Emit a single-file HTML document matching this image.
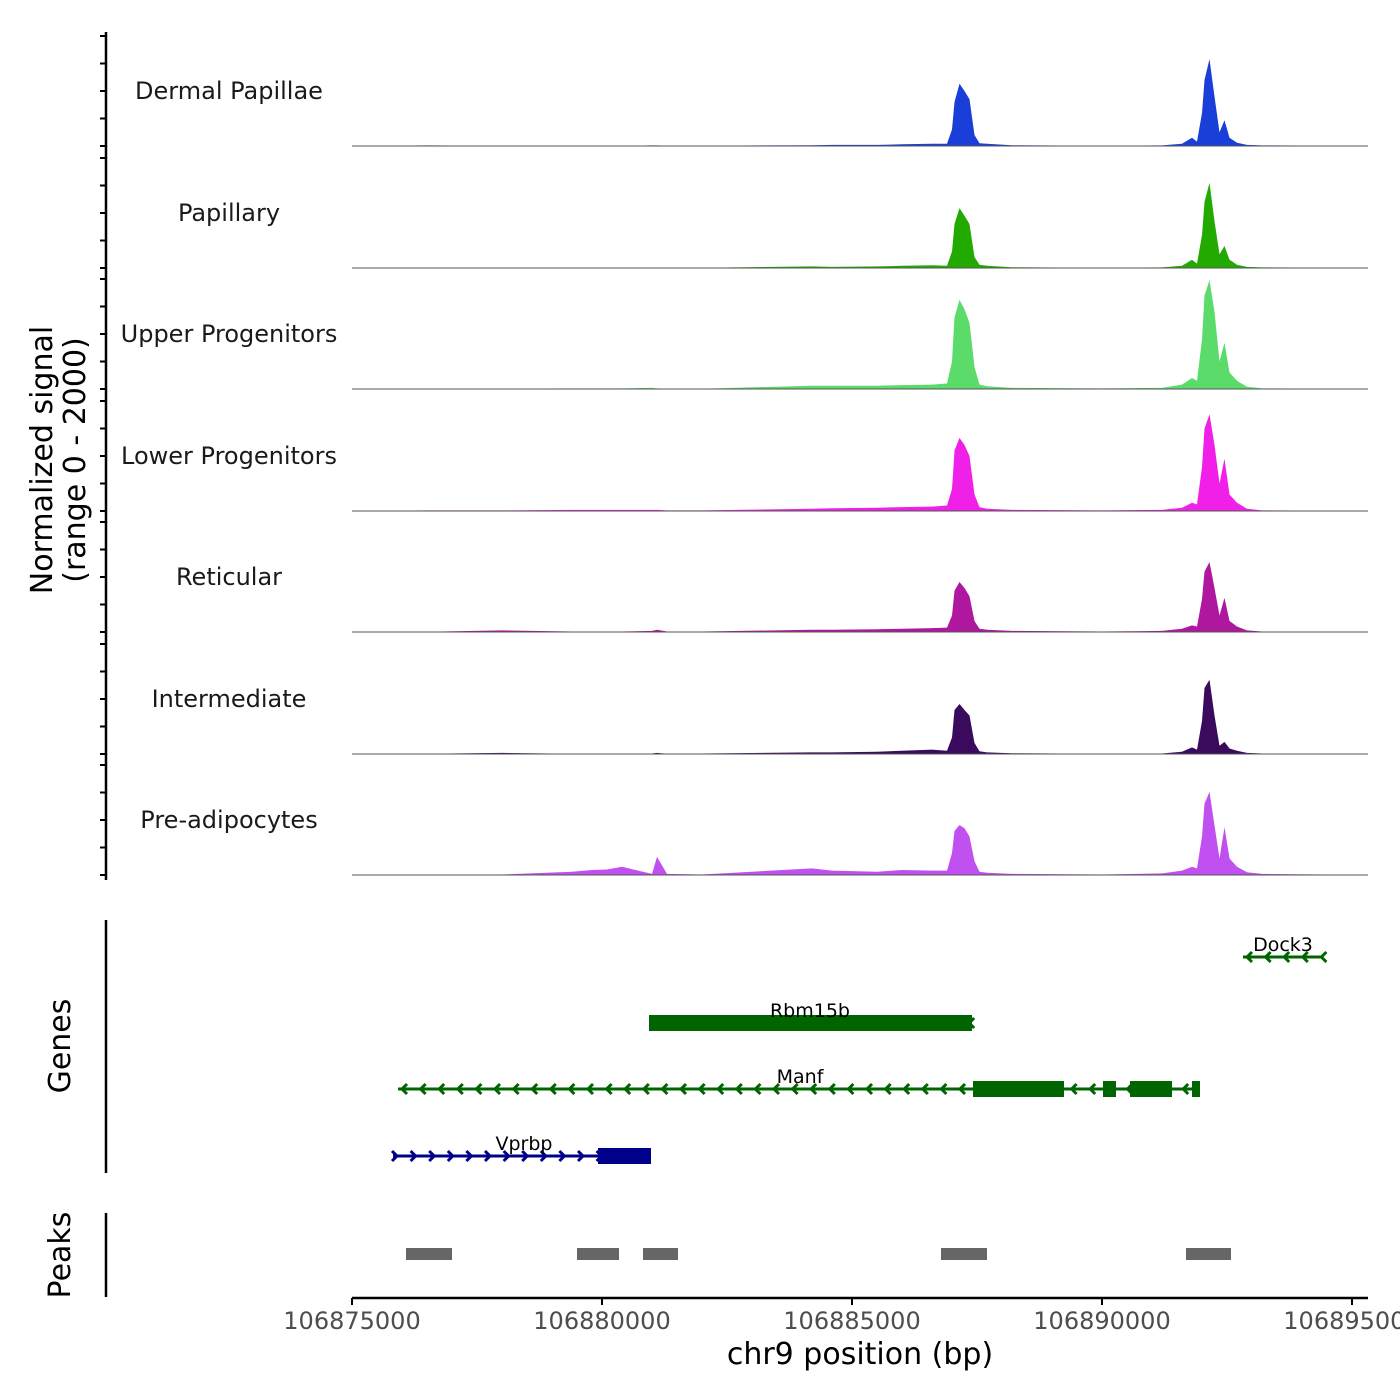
<!DOCTYPE html>
<html><head><meta charset="utf-8"><style>
html,body{margin:0;padding:0;background:#fff;}
svg{display:block;font-family:"DejaVu Sans","Liberation Sans",sans-serif;}
</style></head><body>
<svg id="chart" width="1400" height="1400" viewBox="0 0 1400 1400"></svg>
<script>
const trackNames = ["Dermal Papillae","Papillary","Upper Progenitors","Lower Progenitors","Reticular","Intermediate","Pre-adipocytes"];
const trackColors = ["#1a3fd8","#22aa00","#5bdb6a","#f020e8","#b0179f","#3a0a5c","#c050f0"];
const startBp = 106875000;
const positions = [0,1500,3000,4400,4800,5100,5400,6000,6100,6300,7000,9200,9600,10500,11000,11600,11900,12000,12050,12150,12250,12350,12450,12550,12700,13200,15000,16200,16600,16800,16900,17000,17050,17150,17250,17350,17450,17550,17700,17900,18200,20000,20320];
const sigDermal = [0,10,5,5,5,5,5,10,10,5,5,15,20,20,30,40,40,300,800,1130,1000,850,200,50,40,15,5,10,40,150,80,600,1200,1580,900,250,470,150,60,20,10,5,0];
const sigPapillary = [0,5,5,5,5,5,5,5,5,5,5,30,20,30,40,50,40,300,800,1090,950,800,200,60,40,15,5,10,40,150,80,600,1200,1550,850,250,400,150,60,20,10,5,0];
const sigUpper = [0,5,5,10,10,10,10,20,10,5,5,60,60,60,70,80,100,500,1300,1620,1450,1200,400,80,50,20,10,20,80,200,150,900,1700,1980,1400,500,840,300,150,40,10,5,0];
const sigLower = [0,10,10,20,20,20,20,20,20,10,10,40,50,60,70,80,100,400,1100,1330,1200,1000,300,70,40,20,10,20,60,150,120,800,1500,1760,1200,500,950,300,150,40,10,5,0];
const sigReticular = [0,5,30,10,10,10,10,20,40,10,10,40,40,50,60,70,80,300,750,910,800,650,200,60,40,20,10,20,60,120,100,600,1100,1270,800,300,620,200,100,30,10,5,0];
const sigIntermediate = [0,5,20,5,5,5,5,10,20,5,10,30,30,40,60,80,60,300,800,910,800,700,200,50,30,15,5,10,40,120,80,600,1200,1350,700,150,220,100,60,20,10,5,0];
const sigPreadipo = [0,10,10,60,90,100,150,20,330,20,10,120,80,60,90,80,80,400,800,910,850,700,250,60,40,20,10,30,80,150,120,700,1300,1510,900,300,870,300,150,50,20,5,0];
const signals = [sigDermal,sigPapillary,sigUpper,sigLower,sigReticular,sigIntermediate,sigPreadipo];
const xTicks = [106875000,106880000,106885000,106890000,106895000];
const peakStarts = [106876080,106879500,106880820,106886780,106891680];
const peakEnds = [106877000,106880340,106881520,106887700,106892580];

const NS="http://www.w3.org/2000/svg";
const svg=document.getElementById('chart');
function el(t,a,p){const e=document.createElementNS(NS,t);for(const k in a)e.setAttribute(k,a[k]);(p||svg).appendChild(e);return e;}
const X0=352,X1=1368;
function xs(bp){return X0+(bp-startBp)*0.05;}
const baselines=[146,268,389,511,632,754,875];
function ys(v,i){return baselines[i]-v*110/2000;}

const ax=el('line',{x1:106,y1:32,x2:106,y2:880,stroke:'#000','stroke-width':2.5});

for(let i=0;i<7;i++){for(let k=0;k<5;k++){const y=ys(k*500,i);
 const t=el('line',{x1:100,y1:y,x2:106,y2:y,stroke:'#000','stroke-width':2});
 }}

for(let i=0;i<7;i++){
 const g=el('g',{});
 
 
 let d='M'+xs(startBp+positions[0])+','+baselines[i];
 positions.forEach((p,j)=>{d+=' L'+xs(startBp+p).toFixed(1)+','+ys(signals[i][j],i).toFixed(1);});
 d+=' L'+xs(startBp+positions[positions.length-1])+','+baselines[i]+' Z';
 const a=el('path',{d:d,fill:trackColors[i]},g);
 
 const b=el('line',{x1:X0,x2:X1,y1:baselines[i],y2:baselines[i],stroke:'#555','stroke-width':1},g);
 
 const l=el('text',{x:229,y:baselines[i]-47,'text-anchor':'middle','font-size':24,fill:'#1a1a1a'},g);
 l.textContent=trackNames[i];
 
}
const yt=el('text',{transform:'translate(52,460) rotate(-90)','text-anchor':'middle','font-size':30,fill:'#000'});

const ts1=el('tspan',{x:0,dy:0},yt);ts1.textContent='Normalized signal';
const ts2=el('tspan',{x:0,dy:33},yt);ts2.textContent='(range 0 - 2000)';

const ga=el('line',{x1:106,y1:920,x2:106,y2:1173,stroke:'#000','stroke-width':2.5});

const gt=el('text',{transform:'translate(70,1046) rotate(-90)','text-anchor':'middle','font-size':30});
gt.textContent='Genes';
function gene(name,x1,x2,y,col,dir,boxes,lx){
 const g=el('g',{});
 
 el('line',{x1:x1,x2:x2,y1:y,y2:y,stroke:col,'stroke-width':3},g);
 for(let x=x1+4;x<=x2;x+=18.6){
  const p=dir<0?`M${x+5},${y-5} L${x},${y} L${x+5},${y+5}`:`M${x-5},${y-5} L${x},${y} L${x-5},${y+5}`;
  el('path',{d:p,stroke:col,'stroke-width':3,fill:'none'},g);}
 boxes.forEach(b=>el('rect',{x:b[0],y:y-8,width:b[1]-b[0],height:16,fill:col},g));
 const t=el('text',{x:lx,y:y-6,'text-anchor':'middle','font-size':19,fill:'#000'},g);t.textContent=name;
}
gene('Dock3',1243,1322,957,'#006400',-1,[],1283);
gene('Rbm15b',649,972,1023,'#006400',-1,[[649,972]],810);
gene('Manf',398,1200,1089,'#006400',-1,[[973,1064],[1103,1116],[1130,1172],[1192,1200]],800);
gene('Vprbp',393,651,1156,'#00008b',1,[[598,651]],524);

const pa=el('line',{x1:106,y1:1213,x2:106,y2:1297,stroke:'#000','stroke-width':2.5});

const pt=el('text',{transform:'translate(70,1255) rotate(-90)','text-anchor':'middle','font-size':30});
pt.textContent='Peaks';
peakStarts.forEach((s,i)=>{const r=el('rect',{x:xs(s),y:1248,width:xs(peakEnds[i])-xs(s),height:12,fill:'#666'});
 });

const xa=el('line',{x1:X0,y1:1298,x2:X1,y2:1298,stroke:'#000','stroke-width':2.5});

xTicks.forEach(t=>{const x=xs(t);
 const tk=el('line',{x1:x,x2:x,y1:1298,y2:1305,stroke:'#000','stroke-width':2});
 
 const lb=el('text',{x:x,y:1329,'text-anchor':'middle','font-size':24,fill:'#4d4d4d'});lb.textContent=t;
 });
const xt=el('text',{x:860,y:1364,'text-anchor':'middle','font-size':30});xt.textContent='chr9 position (bp)';

</script>
</body></html>
